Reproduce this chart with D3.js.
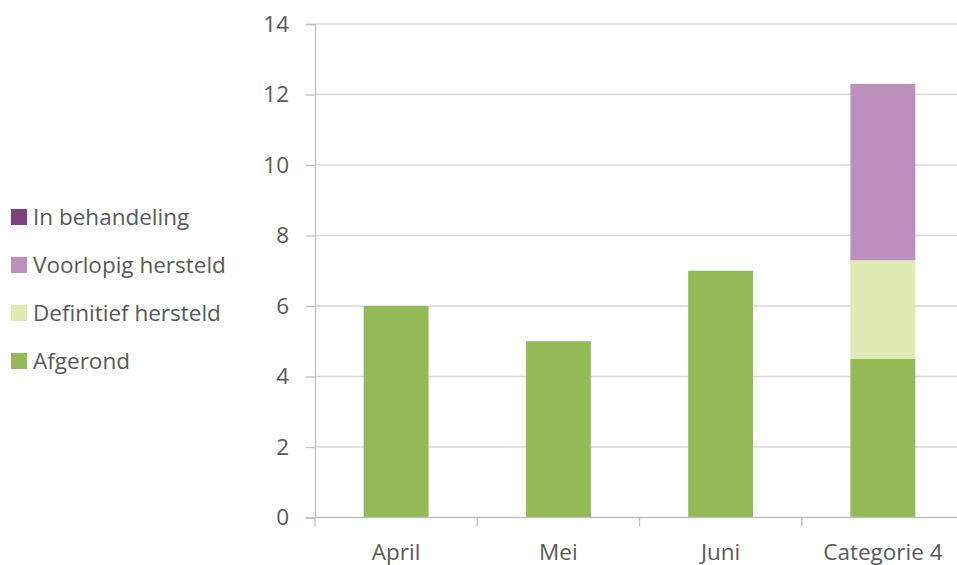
<!DOCTYPE html>
<html>
<head>
<meta charset="utf-8">
<script src="https://cdn.jsdelivr.net/npm/d3@7"></script>
<style>
  body { margin: 0; background: #fff; }
  text { font-family: "Open Sans", Lato, sans-serif; fill: #595959; }
</style>
</head>
<body>
<div id="chart"></div>
<script>
let categories = ["April", "Mei", "Juni", "Categorie 4"]
let afgerond = [6, 5, 7, 4.5]
let definitiefHersteld = [0, 0, 0, 2.8]
let voorlopigHersteld = [0, 0, 0, 5]
let inBehandeling = [0, 0, 0, 0]
let yTicks = [0, 2, 4, 6, 8, 10, 12, 14]

let seriesNames = ["Afgerond", "Definitief hersteld", "Voorlopig hersteld", "In behandeling"]
let seriesColors = ["#94b957", "#dfeab5", "#bc8fbd", "#7e3f7e"]

let width = 957
let height = 565
let margins = { top: 24, left: 315, bottom: 47.5 }
let plotRight = 964
let fontSize = "22.5px"

let rows = categories.map((c, i) => ({
    category: c,
    "Afgerond": afgerond[i],
    "Definitief hersteld": definitiefHersteld[i],
    "Voorlopig hersteld": voorlopigHersteld[i],
    "In behandeling": inBehandeling[i]
}))

let stacked = d3.stack().keys(seriesNames)(rows)

let svg = d3.select("#chart").append("svg")
    .attr("width", width)
    .attr("height", height)

let xScale = d3.scaleBand()
    .domain(categories)
    .range([margins.left, plotRight])
    .paddingInner(0.6)
    .paddingOuter(0.3)

let xOuter = d3.scaleBand()
    .domain(categories)
    .range([margins.left, plotRight])

let yScale = d3.scaleLinear()
    .domain([0, 14])
    .range([height - margins.bottom, margins.top])

// gridlines
svg.append("g")
    .selectAll("line")
    .data(yTicks.filter(d => d > 0))
    .join("line")
    .attr("x1", margins.left)
    .attr("x2", plotRight)
    .attr("y1", d => yScale(d))
    .attr("y2", d => yScale(d))
    .attr("stroke", "#d9d9d9")
    .attr("stroke-width", 1.3)

// bars
svg.append("g")
    .selectAll("g")
    .data(stacked)
    .join("g")
    .attr("fill", (d, i) => seriesColors[i])
    .selectAll("rect")
    .data(d => d)
    .join("rect")
    .attr("x", d => xScale(d.data.category))
    .attr("width", xScale.bandwidth())
    .attr("y", d => yScale(d[1]))
    .attr("height", d => yScale(d[0]) - yScale(d[1]))

// y axis
let yAxis = svg.append("g")
    .attr("transform", `translate(${margins.left},0)`)
    .call(d3.axisLeft(yScale).tickValues(yTicks).tickSize(9).tickPadding(17))
yAxis.select(".domain").attr("stroke", "#bfbfbf").attr("stroke-width", 1.3)
yAxis.selectAll(".tick line").attr("stroke", "#bfbfbf").attr("stroke-width", 1.3)
yAxis.selectAll("text").style("font-size", fontSize).attr("fill", "#595959")

// x axis, ticks between categories
let xAxis = svg.append("g")
    .attr("transform", `translate(0,${yScale(0)})`)
xAxis.append("line")
    .attr("x1", margins.left)
    .attr("x2", plotRight)
    .attr("stroke", "#bfbfbf")
    .attr("stroke-width", 1.3)
xAxis.selectAll(".sep")
    .data(categories)
    .join("line")
    .attr("class", "sep")
    .attr("x1", d => xOuter(d))
    .attr("x2", d => xOuter(d))
    .attr("y1", 0)
    .attr("y2", 9)
    .attr("stroke", "#bfbfbf")
    .attr("stroke-width", 1.3)
xAxis.selectAll(".lbl")
    .data(categories)
    .join("text")
    .attr("class", "lbl")
    .attr("x", d => xScale(d) + xScale.bandwidth() / 2)
    .attr("y", 42)
    .attr("text-anchor", "middle")
    .style("font-size", fontSize)
    .text(d => d)

// legend
let legendOrder = seriesNames.slice().reverse()
let legend = svg.append("g")
    .selectAll("g")
    .data(legendOrder)
    .join("g")
    .attr("transform", (d, i) => `translate(11,${217 + i * 48})`)
legend.append("rect")
    .attr("x", 0)
    .attr("y", -8)
    .attr("width", 16)
    .attr("height", 16)
    .attr("fill", d => seriesColors[seriesNames.indexOf(d)])
legend.append("text")
    .attr("x", 22)
    .attr("y", 8)
    .style("font-size", fontSize)
    .text(d => d)
</script>
</body>
</html>
